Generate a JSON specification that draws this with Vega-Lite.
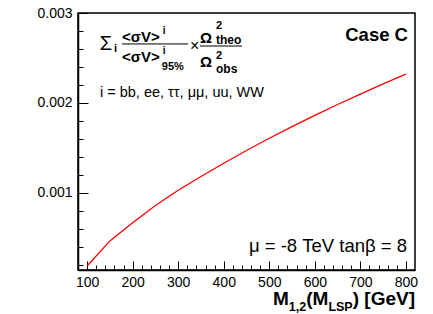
{
  "$schema": "https://vega.github.io/schema/vega-lite/v6.json",
  "width": 337,
  "height": 257,
  "autosize": {"type": "none"},
  "padding": {"left": 78, "top": 13, "right": 18, "bottom": 44},
  "background": "white",
  "config": {
    "font": "Liberation Sans",
    "view": {"stroke": "black", "strokeWidth": 1.5},
    "axis": {
      "labelFont": "Liberation Sans",
      "labelFontSize": 14,
      "labelColor": "black",
      "domainColor": "black",
      "domainWidth": 1.5,
      "tickColor": "black",
      "tickWidth": 1,
      "grid": false,
      "title": null
    },
    "text": {"font": "Liberation Sans", "color": "black"}
  },
  "layer": [
    {
      "data": {"values": [
        {"m": 100, "sv": 0.000189},
        {"m": 150, "sv": 0.000467},
        {"m": 200, "sv": 0.00067},
        {"m": 250, "sv": 0.00086},
        {"m": 300, "sv": 0.00103},
        {"m": 350, "sv": 0.001183},
        {"m": 400, "sv": 0.001331},
        {"m": 450, "sv": 0.001472},
        {"m": 500, "sv": 0.001608},
        {"m": 550, "sv": 0.001738},
        {"m": 600, "sv": 0.001863},
        {"m": 650, "sv": 0.001983},
        {"m": 700, "sv": 0.002099},
        {"m": 750, "sv": 0.002212},
        {"m": 800, "sv": 0.00232}
      ]},
      "mark": {"type": "line", "color": "#ff0000", "strokeWidth": 1.3, "clip": true},
      "encoding": {
        "x": {
          "field": "m", "type": "quantitative",
          "scale": {"domain": [80, 820], "nice": false, "zero": false},
          "axis": {
            "values": [100,120,140,160,180,200,220,240,260,280,300,320,340,360,380,400,420,440,460,480,500,520,540,560,580,600,620,640,660,680,700,720,740,760,780,800],
            "tickCount": 200,
            "labelExpr": "datum.value % 100 == 0 ? datum.label : ''",
            "labelOverlap": false,
            "labelFlush": false,
            "labelBound": false,
            "tickSize": {"condition": {"test": "datum.value % 100 == 0", "value": -9}, "value": -5},
            "labelPadding": 14
          }
        },
        "y": {
          "field": "sv", "type": "quantitative",
          "scale": {"domain": [0.000144, 0.003], "nice": false, "zero": false},
          "axis": {
            "values": [0.0002,0.0004,0.0006,0.0008,0.001,0.0012,0.0014,0.0016,0.0018,0.002,0.0022,0.0024,0.0026,0.0028,0.003],
            "tickCount": 200,
            "labelExpr": "abs(datum.value*1000 - round(datum.value*1000)) < 1e-6 ? format(datum.value, '.3f') : ''",
            "labelOverlap": false,
            "labelFlush": false,
            "labelBound": false,
            "tickSize": {"condition": {"test": "abs(datum.value*1000 - round(datum.value*1000)) < 1e-6", "value": -10}, "value": -5},
            "labelPadding": 16
          }
        }
      }
    },
    {
      "data": {"values": [{}]},
      "mark": {"type": "rule", "color": "black", "strokeWidth": 1},
      "encoding": {"x": {"datum": 176.6}, "x2": {"datum": 321.5}, "y": {"datum": 0.002656}}
    },
    {
      "data": {"values": [{}]},
      "mark": {"type": "rule", "color": "black", "strokeWidth": 1},
      "encoding": {"x": {"datum": 347.9}, "x2": {"datum": 440.1}, "y": {"datum": 0.002633}}
    },
    {
      "data": {"values": [{}]},
      "mark": {"type": "text", "fontSize": 20, "align": "left", "baseline": "middle"},
      "encoding": {"x": {"datum": 128}, "y": {"datum": 0.002661}, "text": {"value": "Σ"}}
    },
    {
      "data": {"values": [{}]},
      "mark": {"type": "text", "fontSize": 11, "fontWeight": "bold", "align": "left", "baseline": "middle"},
      "encoding": {"x": {"datum": 159}, "y": {"datum": 0.002595}, "text": {"value": "i"}}
    },
    {
      "data": {"values": [{}]},
      "mark": {"type": "text", "fontSize": 15, "fontWeight": "bold", "align": "left", "baseline": "middle"},
      "encoding": {"x": {"datum": 176.6}, "y": {"datum": 0.002733}, "text": {"value": "<σV>"}}
    },
    {
      "data": {"values": [{}]},
      "mark": {"type": "text", "fontSize": 10, "fontWeight": "bold", "align": "left", "baseline": "middle"},
      "encoding": {"x": {"datum": 266}, "y": {"datum": 0.0028}, "text": {"value": "i"}}
    },
    {
      "data": {"values": [{}]},
      "mark": {"type": "text", "fontSize": 15, "fontWeight": "bold", "align": "left", "baseline": "middle"},
      "encoding": {"x": {"datum": 176.6}, "y": {"datum": 0.002511}, "text": {"value": "<σV>"}}
    },
    {
      "data": {"values": [{}]},
      "mark": {"type": "text", "fontSize": 10, "fontWeight": "bold", "align": "left", "baseline": "middle"},
      "encoding": {"x": {"datum": 266}, "y": {"datum": 0.002578}, "text": {"value": "i"}}
    },
    {
      "data": {"values": [{}]},
      "mark": {"type": "text", "fontSize": 11, "fontWeight": "bold", "align": "left", "baseline": "middle"},
      "encoding": {"x": {"datum": 264}, "y": {"datum": 0.0024}, "text": {"value": "95%"}}
    },
    {
      "data": {"values": [{}]},
      "mark": {"type": "text", "fontSize": 16, "align": "center", "baseline": "middle"},
      "encoding": {"x": {"datum": 336}, "y": {"datum": 0.002633}, "text": {"value": "×"}}
    },
    {
      "data": {"values": [{}]},
      "mark": {"type": "text", "fontSize": 15, "fontWeight": "bold", "align": "left", "baseline": "middle"},
      "encoding": {"x": {"datum": 347.9}, "y": {"datum": 0.002722}, "text": {"value": "Ω"}}
    },
    {
      "data": {"values": [{}]},
      "mark": {"type": "text", "fontSize": 11, "fontWeight": "bold", "align": "left", "baseline": "middle"},
      "encoding": {"x": {"datum": 383}, "y": {"datum": 0.00285}, "text": {"value": "2"}}
    },
    {
      "data": {"values": [{}]},
      "mark": {"type": "text", "fontSize": 12, "fontWeight": "bold", "align": "left", "baseline": "middle"},
      "encoding": {"x": {"datum": 383}, "y": {"datum": 0.002705}, "text": {"value": "theo"}}
    },
    {
      "data": {"values": [{}]},
      "mark": {"type": "text", "fontSize": 15, "fontWeight": "bold", "align": "left", "baseline": "middle"},
      "encoding": {"x": {"datum": 347.9}, "y": {"datum": 0.002456}, "text": {"value": "Ω"}}
    },
    {
      "data": {"values": [{}]},
      "mark": {"type": "text", "fontSize": 11, "fontWeight": "bold", "align": "left", "baseline": "middle"},
      "encoding": {"x": {"datum": 383}, "y": {"datum": 0.002522}, "text": {"value": "2"}}
    },
    {
      "data": {"values": [{}]},
      "mark": {"type": "text", "fontSize": 12, "fontWeight": "bold", "align": "left", "baseline": "middle"},
      "encoding": {"x": {"datum": 383}, "y": {"datum": 0.002378}, "text": {"value": "obs"}}
    },
    {
      "data": {"values": [{}]},
      "mark": {"type": "text", "fontSize": 14.5, "align": "left", "baseline": "middle"},
      "encoding": {"x": {"datum": 128.3}, "y": {"datum": 0.00211}, "text": {"value": "i = bb, ee, ττ, μμ, uu, WW"}}
    },
    {
      "data": {"values": [{}]},
      "mark": {"type": "text", "fontSize": 18.5, "fontWeight": "bold", "align": "right", "baseline": "middle"},
      "encoding": {"x": {"datum": 804.6}, "y": {"datum": 0.002756}, "text": {"value": "Case C"}}
    },
    {
      "data": {"values": [{}]},
      "mark": {"type": "text", "fontSize": 18.5, "align": "right", "baseline": "middle"},
      "encoding": {"x": {"datum": 802.4}, "y": {"datum": 0.000411}, "text": {"value": "μ = -8 TeV tanβ = 8"}}
    },
    {
      "data": {"values": [{}]},
      "mark": {"type": "text", "fontSize": 19, "fontWeight": "bold", "align": "left", "baseline": "alphabetic"},
      "encoding": {"x": {"datum": 508.2}, "y": {"datum": -0.000244}, "text": {"value": "M"}}
    },
    {
      "data": {"values": [{}]},
      "mark": {"type": "text", "fontSize": 12.5, "fontWeight": "bold", "align": "left", "baseline": "alphabetic"},
      "encoding": {"x": {"datum": 542.9}, "y": {"datum": -0.000311}, "text": {"value": "1,2"}}
    },
    {
      "data": {"values": [{}]},
      "mark": {"type": "text", "fontSize": 19, "fontWeight": "bold", "align": "left", "baseline": "alphabetic"},
      "encoding": {"x": {"datum": 581.1}, "y": {"datum": -0.000244}, "text": {"value": "(M"}}
    },
    {
      "data": {"values": [{}]},
      "mark": {"type": "text", "fontSize": 12.5, "fontWeight": "bold", "align": "left", "baseline": "alphabetic"},
      "encoding": {"x": {"datum": 629.8}, "y": {"datum": -0.000311}, "text": {"value": "LSP"}}
    },
    {
      "data": {"values": [{}]},
      "mark": {"type": "text", "fontSize": 19, "fontWeight": "bold", "align": "right", "baseline": "alphabetic"},
      "encoding": {"x": {"datum": 820}, "y": {"datum": -0.000244}, "text": {"value": ") [GeV]"}}
    }
  ]
}
